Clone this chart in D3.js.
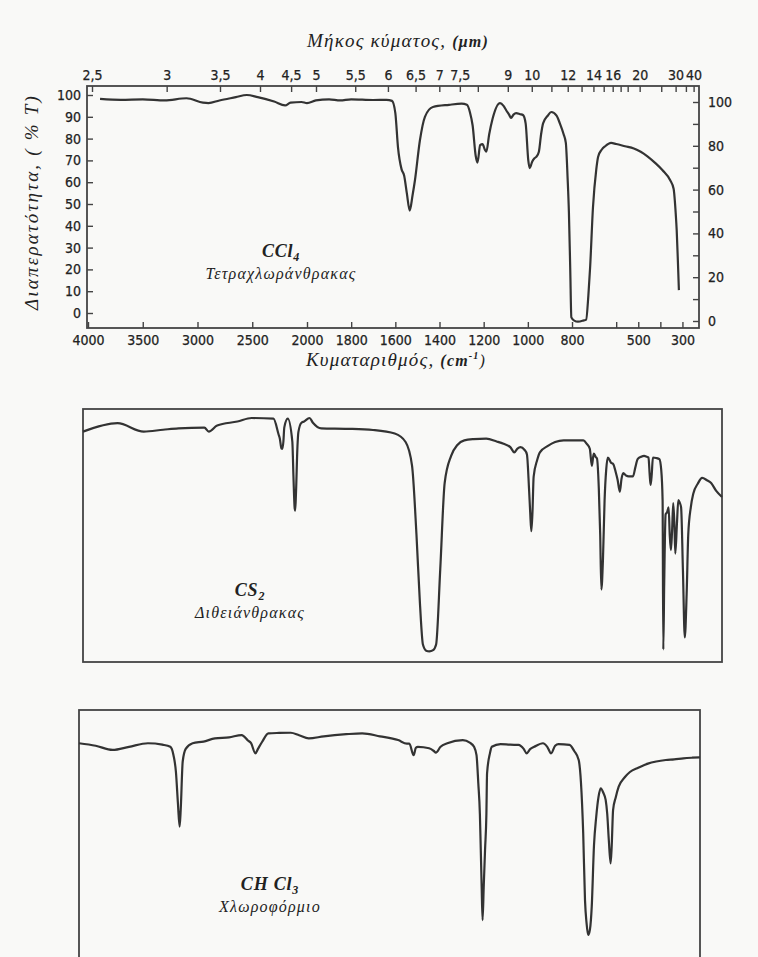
<!DOCTYPE html>
<html><head><meta charset="utf-8">
<script src="https://cdn.jsdelivr.net/npm/d3@7"></script>
<style>
html,body{margin:0;padding:0;background:#f9f9f7;}
svg{display:block;}
.tick text{font-family:"Liberation Sans Narrow","DejaVu Sans Condensed","Liberation Sans",sans-serif;font-size:14px;fill:#222;stroke:#222;stroke-width:0.25;}
.tick line{stroke:#444;stroke-width:1.4;}
</style></head>
<body><svg id="c" width="758" height="957"></svg>
<script>
// ---------- data ----------
const wavenumberTicks = [4000,3500,3000,2500,2000,1800,1600,1400,1200,1000,800,500,300];
const wavenumberMinorTicks = [600,400];
const micronTicks  = [2.5,3,3.5,4,4.5,5,5.5,6,6.5,7,7.5,9,10,12,14,16,20,30,40];
const micronLabels = ["2,5","3","3,5","4","4,5","5","5,5","6","6,5","7","7,5","9","10","12","14","16","20","30","40"];
const micronMinorTicks = [8,11,13,15,17,18,25,35];
const leftTicks  = [0,10,20,30,40,50,60,70,80,90,100];
const rightTicks = [0,10,20,30,40,50,60,70,80,90,100];
const rightLabels = [0,20,40,60,80,100];

const ccl4Wn = [3890,3700,3500,3300,3100,2950,2900,2800,2650,2550,2450,2300,2200,2150,2050,2000,1960,1900,1850,1800,1700,1640,1615,1600,1588,1572,1560,1548,1535,1522,1511,1489,1466,1430,1357,1300,1276,1262,1250,1236,1228,1216,1205,1195,1188,1175,1160,1126,1110,1098,1085,1076,1065,1053,1035,1022,1010,998,992,980,970,962,950,940,931,910,894,870,855,838,828,820,814,808,803,790,773,750,736,726,718,705,690,682,665,650,623,600,560,520,489,460,425,390,356,340,330,326,320,316];
const ccl4T  = [98.2,97.8,98,97.5,98.5,96.5,96.3,97.5,99,100,99,97,95.2,96.5,96.8,96.3,97.5,98,97.5,98,97.7,97.8,97.3,91.7,76,66,63,55,47,54,61,79,90,94.5,95.5,96,95.5,92,86,72,69,77,77.5,75,74,82,89,96.3,95,93,91,89.5,91,91.7,91.2,90.8,87,70,66.5,69.5,71,71.6,74,82,87,90.5,92.2,90.5,87,82,78,62,46,20,-2,-3.5,-4,-3.5,-3,8,21,48.6,66,71.6,75,76.5,78,77.5,76.5,75.5,74,72,69,65.5,61,57,45,38,22,10.5];

const cs2Wn = [4000,3698,3469,3300,3166,2939,2900,2827,2650,2525,2335,2290,2279,2265,2257,2248,2240,2210,2170,2160,2150,2145,2138,2125,2117,2090,2067,2020,1995,1959,1845,1735,1641,1594,1566,1547,1532,1519,1505,1491,1475,1462,1444,1425,1397,1370,1340,1300,1245,1200,1170,1140,1124,1110,1097,1080,1069,1060,1055,1050,1045,1040,1025,1013,980,947,910,872,840,825,810,797,788,780,772,766,758,752,747,740,733,726,719,705,695,685,677,667,660,652,640,629,610,600,590,575,562,550,543,538,534,529,524,510,496,488,482,479,475,469,462,456,451,446,441,436,431,427,420,414,408,402,394,386,378,371,360,349,330,311,290,272,250,225];
const cs2T  = [94.2,97.8,94.2,95,95.6,95.9,94.2,96.8,98.5,100,99.7,93,91.2,87,86.9,90,96,99.7,90,75,62,60.6,68,88,94,98,98.5,100,98,95.6,95.4,94.9,93.4,89.8,79.6,50.4,21.2,3.6,1,0.7,1.2,3.6,35.8,72.3,83.9,88.5,90.5,91,91.2,90,89,87.5,85.4,87,87.6,86.5,84.5,70,60,51.8,60,75,82,85.4,88,89.8,90.5,90.5,90.5,90.5,89,86.9,79.6,84.9,83.5,82.8,70,50.4,27,40,65,78,83.2,81,80.3,77,73.8,68.6,74,76.6,75.5,75.2,75.2,79,82.5,83.5,83.9,83.5,83.2,76,71.5,76,83.2,83,82.5,78,65,1.5,30,59,60,62,50,43.8,52,63.8,55,42.3,55,65.1,64,62,35,6.6,25,50.4,62,67.9,72,74.5,73.5,72.3,69,66.4];

const chcl3Wn = [4000,3850,3698,3550,3380,3250,3179,3150,3128,3110,3095,3085,3067,3040,2978,2880,2777,2650,2536,2480,2452,2413,2390,2352,2296,2200,2095,2020,1967,1900,1800,1729,1650,1569,1530,1519,1500,1490,1481,1431,1410,1401,1380,1350,1281,1250,1231,1220,1212,1205,1201,1197,1193,1188,1182,1176,1173,1160,1152,1113,1070,1033,1010,997,980,963,924,905,888,870,855,806,785,765,755,745,737,730,723,715,707,697,687,677,667,655,645,638,631,623,618,612,600,587,560,537,500,457,420,377,340,299,260,225];
const chcl3T  = [93.7,92.5,90.5,92,93.7,93,92,88,80,65,54,62,85,91,93.7,94.5,96,96.5,97.6,95,93.7,88.9,91,94.4,98.4,98.6,98.7,97.5,96,97,98,98.4,97,95.2,93.5,93.5,88,91.5,92,91.3,90,89.2,92,93.7,95.2,94,92,88,74.6,60,42.9,25,9.5,25,42.9,60,79.4,89,92,93.3,93,92.9,91,88.9,91,92,93.7,92,88.9,92.5,93.3,92.9,90,85.7,75,50.8,19,8,2.4,5,15.9,45,58.7,68,72.2,70,66.7,60,47.6,36.5,45,61.9,68,73,77.5,80,82,84,85,85.7,86,86.5,86.8,87];

// ---------- drawing ----------
const svg = d3.select("#c");
const serif = '"Liberation Serif","DejaVu Serif",serif';

function panelX(left, right){
  const bp = left + 0.358*(right-left);
  return d3.scaleLinear().domain([4000,2000,225]).range([left,bp,right]);
}
function drawCurve(x, y, wn, t){
  const pts = wn.map((w,i)=>[x(w), y(t[i])]);
  svg.append("path").datum(pts)
    .attr("d", d3.line().curve(d3.curveMonotoneX))
    .attr("fill","none").attr("stroke","#333")
    .attr("stroke-width",2.2).attr("stroke-linejoin","round");
}
function frame(l,t,r,b){
  svg.append("rect").attr("x",l).attr("y",t).attr("width",r-l).attr("height",b-t)
    .attr("fill","none").attr("stroke","#444").attr("stroke-width",1.8);
}

// Panel 1 : CCl4 with axes
const P1 = {l:87, t:86, r:699, b:328};
const x1 = d3.scaleLinear().domain([4000,2000,225]).range([88,307,699]);
const xTop = d3.scaleLinear().domain([4000,2000,225]).range([92,316,699]);
const yL = d3.scaleLinear().domain([0,100]).range([313,95]);
const yR = d3.scaleLinear().domain([0,100]).range([321,102]);

function axisG(ax, tx, ty){
  const g = svg.append("g").attr("transform",`translate(${tx},${ty})`).call(ax);
  g.select(".domain").remove();
  return g;
}
axisG(d3.axisBottom(x1).tickValues(wavenumberTicks).tickSize(-6).tickPadding(7).tickFormat(d3.format("d")),0,P1.b);
axisG(d3.axisBottom(x1).tickValues(wavenumberMinorTicks).tickSize(-6).tickFormat(""),0,P1.b);
const lab = new Map(micronTicks.map((m,i)=>[m,micronLabels[i]]));
axisG(d3.axisTop(xTop).tickValues(micronTicks.map(m=>10000/m)).tickSize(-6).tickPadding(6)
  .tickFormat(d=>lab.get(micronTicks.find(m=>Math.abs(10000/m-d)<1e-6))),0,P1.t);
axisG(d3.axisTop(xTop).tickValues(micronMinorTicks.map(m=>10000/m)).tickSize(-6).tickFormat(""),0,P1.t);
axisG(d3.axisLeft(yL).tickValues(leftTicks).tickSize(-6).tickPadding(6).tickFormat(d3.format("d")),P1.l,0);
axisG(d3.axisRight(yR).tickValues(rightTicks).tickSize(-6).tickPadding(9)
  .tickFormat(d=>rightLabels.includes(d)?d:""),P1.r,0);
frame(P1.l,P1.t,P1.r,P1.b);
drawCurve(x1, yL, ccl4Wn, ccl4T);

// titles
const tt = svg.append("text").attr("x",398).attr("y",47).attr("text-anchor","middle")
  .attr("font-family",serif).attr("font-style","italic").attr("font-size",19)
  .attr("letter-spacing",1.2).attr("fill","#222");
tt.append("tspan").text("Μήκος   κύματος, ");
tt.append("tspan").attr("font-size",16).attr("font-weight","bold").text("(μm)");

const bt = svg.append("text").attr("x",396).attr("y",366).attr("text-anchor","middle")
  .attr("font-family",serif).attr("font-style","italic").attr("font-size",19)
  .attr("letter-spacing",1.2).attr("fill","#222");
bt.append("tspan").text("Κυματαριθμός, ");
bt.append("tspan").attr("font-size",16).attr("font-weight","bold").text("(cm");
bt.append("tspan").attr("font-size",10).attr("font-weight","bold").attr("dy",-7).text("-1");
bt.append("tspan").attr("font-size",16).attr("dy",7).text(")");

svg.append("text").attr("transform","translate(31,202) rotate(-90)").attr("text-anchor","middle")
  .attr("dominant-baseline","central")
  .attr("font-family",serif).attr("font-style","italic").attr("font-size",19)
  .attr("letter-spacing",2.2).attr("fill","#222")
  .text("Διαπερατότητα, ( % T)");

function compound(x, y, main, sub, name){
  const t = svg.append("text").attr("x",x).attr("y",y).attr("text-anchor","middle")
    .attr("font-family",serif).attr("font-style","italic").attr("font-weight","bold")
    .attr("font-size",18).attr("letter-spacing",0.8).attr("fill","#222");
  t.append("tspan").text(main);
  t.append("tspan").attr("font-size",12).attr("dy",4).text(sub);
  svg.append("text").attr("x",x).attr("y",y+22).attr("text-anchor","middle")
    .attr("font-family",serif).attr("font-style","italic").attr("font-size",16)
    .attr("letter-spacing",1.2).attr("fill","#222")
    .text(name);
}
compound(281, 257, "CCl", "4", "Τετραχλωράνθρακας");

// Panel 2 : CS2
const P2 = {l:83, t:409, r:722, b:662};
const x2 = panelX(P2.l, P2.r);
const y2 = d3.scaleLinear().domain([0,100]).range([653,418]);
frame(P2.l,P2.t,P2.r,P2.b);
drawCurve(x2, y2, cs2Wn, cs2T);
compound(250, 596, "CS", "2", "Διθειάνθρακας");

// Panel 3 : CHCl3
const P3 = {l:79, t:710, r:700, b:975};
const x3 = panelX(P3.l, P3.r);
const y3 = d3.scaleLinear().domain([0,100]).range([940,730]);
frame(P3.l,P3.t,P3.r,P3.b);
drawCurve(x3, y3, chcl3Wn, chcl3T);
compound(270, 890, "CH Cl", "3", "Χλωροφόρμιο");
</script></body></html>
